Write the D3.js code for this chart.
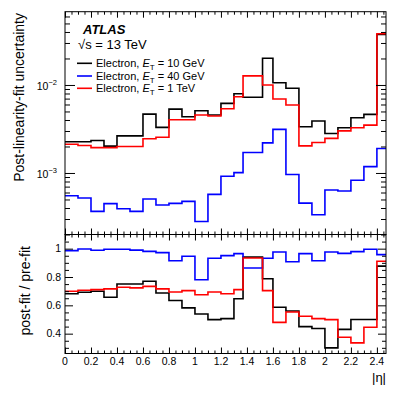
<!DOCTYPE html>
<html>
<head>
<meta charset="utf-8">
<script src="https://cdn.jsdelivr.net/npm/d3@7/dist/d3.min.js"></script>
<style>
body { margin: 0; background: #fff; }
text { font-family: "Liberation Sans", Arial, Helvetica, sans-serif; fill: #000; }
.domain { display: none; }
.tick line { stroke: #000; stroke-width: 1; }
</style>
</head>
<body>
<svg id="chart" width="407" height="393"></svg>
<script>
// bin edges in |eta| (crack region merged into one bin)
var binEdges = [0, 0.1, 0.2, 0.3, 0.4, 0.5, 0.6, 0.7, 0.8, 0.9, 1.0, 1.1, 1.2, 1.3,
                1.37, 1.52, 1.6, 1.7, 1.8, 1.9, 2.0, 2.1, 2.2, 2.3, 2.4, 2.47];

// post-linearity-fit uncertainty, top panel
var uncEt10GeV = [2.26e-3, 2.26e-3, 2.34e-3, 2.02e-3, 2.64e-3, 2.64e-3, 4.67e-3, 3.30e-3, 5.32e-3, 4.35e-3,
                  5.09e-3, 4.55e-3, 6.18e-3, 7.96e-3, 7.24e-3, 2.01e-2, 1.06e-2, 9.17e-3, 3.35e-3, 3.89e-3,
                  2.81e-3, 3.26e-3, 4.24e-3, 4.63e-3, 3.75e-2];
var uncEt40GeV = [5.51e-4, 5.19e-4, 3.66e-4, 4.48e-4, 3.93e-4, 3.66e-4, 5.06e-4, 4.32e-4, 4.52e-4, 4.76e-4,
                  2.81e-4, 5.72e-4, 9.17e-4, 1.01e-3, 1.71e-3, 2.20e-3, 3.13e-3, 9.60e-4, 4.55e-4, 3.35e-4,
                  6.40e-4, 6.23e-4, 8.26e-4, 1.18e-3, 1.90e-3];
var uncEt1TeV  = [2.12e-3, 2.05e-3, 1.94e-3, 1.94e-3, 2.00e-3, 2.00e-3, 2.45e-3, 2.55e-3, 4.02e-3, 4.02e-3,
                  4.55e-3, 4.44e-3, 5.37e-3, 7.36e-3, 1.27e-2, 1.00e-2, 6.92e-3, 5.91e-3, 2.03e-3, 2.22e-3,
                  2.47e-3, 3.01e-3, 3.26e-3, 3.50e-3, 3.82e-2];

// post-fit / pre-fit, bottom panel
var ratioEt10GeV = [0.682, 0.692, 0.699, 0.657, 0.751, 0.751, 0.770, 0.687, 0.634, 0.582,
                    0.539, 0.499, 0.506, 0.647, 0.940, 0.788, 0.586, 0.560, 0.450, 0.437,
                    0.300, 0.430, 0.500, 0.500, 0.877];
var ratioEt40GeV = [0.986, 0.998, 0.989, 0.996, 0.996, 0.990, 0.981, 0.972, 0.915, 0.946,
                    0.781, 0.932, 0.951, 0.965, 0.864, 0.932, 0.977, 0.908, 0.965, 0.915,
                    0.977, 0.967, 0.979, 0.996, 0.958];
var ratioEt1TeV  = [0.699, 0.706, 0.711, 0.716, 0.728, 0.723, 0.734, 0.716, 0.694, 0.704,
                    0.675, 0.694, 0.682, 0.711, 0.934, 0.704, 0.480, 0.553, 0.523, 0.506,
                    0.499, 0.375, 0.335, 0.445, 0.911];

var legendEt = ["10 GeV", "40 GeV", "1 TeV"];
var seriesColors = ["#000000", "#0000ff", "#ff0000"];

var xTicks = [0, 0.2, 0.4, 0.6, 0.8, 1, 1.2, 1.4, 1.6, 1.8, 2, 2.2, 2.4];
var xTickLabels = ["0", "0.2", "0.4", "0.6", "0.8", "1", "1.2", "1.4", "1.6", "1.8", "2", "2.2", "2.4"];
var logTicks = [1e-3, 1e-2];
var logTickExponents = ["\u22123", "\u22122"];
var ratioTicks = [0.4, 0.6, 0.8, 1];
var ratioTickLabels = ["0.4", "0.6", "0.8", "1"];

var svg = d3.select("#chart");
// pad geometry (avoid the name "top", it is window.top)
var padL = 65, padR = 386, padT = 11.7, padM = 234.5, padB = 353.5;

var x = d3.scaleLinear().domain([0, 2.47]).range([padL, padR]);
var yTop = d3.scaleLog().domain([2e-4, 0.068]).range([padM, padT]);
var yBot = d3.scaleLinear().domain([0.26, 1.1]).range([padB, padM]);

// minor ticks
var xMinor = d3.range(0, 2.47, 0.05).filter(function(v) { return Math.abs(v / 0.2 - Math.round(v / 0.2)) > 1e-6; });
var logMinor = [];
[1e-4, 1e-3, 1e-2].forEach(function(dec) {
    for (var k = 2; k <= 9; k++) {
        var v = k * dec;
        if (v >= 2e-4 && v <= 0.068) logMinor.push(v);
    }
});
var ratioMinor = d3.range(0.3, 1.1, 0.05).filter(function(v) {
    return Math.abs(v / 0.2 - Math.round(v / 0.2)) > 1e-6;
});

// clip paths for the two pads
var defs = svg.append("defs");
defs.append("clipPath").attr("id", "clipTop").append("rect")
    .attr("x", padL).attr("y", padT).attr("width", padR - padL).attr("height", padM - padT);
defs.append("clipPath").attr("id", "clipBot").append("rect")
    .attr("x", padL).attr("y", padM).attr("width", padR - padL).attr("height", padB - padM);

function stepPath(yScale, vals) {
    var pts = binEdges.map(function(e, i) { return [e, vals[Math.min(i, vals.length - 1)]]; });
    return d3.line()
        .x(function(d) { return x(d[0]); })
        .y(function(d) { return yScale(d[1]); })
        .curve(d3.curveStepAfter)(pts);
}

function drawHists(clipId, yScale, list) {
    var g = svg.append("g").attr("clip-path", "url(#" + clipId + ")");
    list.forEach(function(vals, i) {
        g.append("path")
            .attr("d", stepPath(yScale, vals))
            .attr("fill", "none")
            .attr("stroke", seriesColors[i])
            .attr("stroke-width", 1.6);
    });
}

drawHists("clipTop", yTop, [uncEt10GeV, uncEt40GeV, uncEt1TeV]);
drawHists("clipBot", yBot, [ratioEt10GeV, ratioEt40GeV, ratioEt1TeV]);

// ticks, ROOT style: all inside the frame, on all four sides
function addAxis(axis, tx, ty) {
    svg.append("g").attr("transform", "translate(" + tx + "," + ty + ")").call(axis);
}
function xAxes(y0, y1, majorLen, minorLen) {
    addAxis(d3.axisBottom(x).tickValues(xTicks).tickSize(-majorLen).tickFormat(""), 0, y1);
    addAxis(d3.axisBottom(x).tickValues(xMinor).tickSize(-minorLen).tickFormat(""), 0, y1);
    addAxis(d3.axisTop(x).tickValues(xTicks).tickSize(-majorLen).tickFormat(""), 0, y0);
    addAxis(d3.axisTop(x).tickValues(xMinor).tickSize(-minorLen).tickFormat(""), 0, y0);
}
function yAxes(scale, major, minor, majorLen, minorLen) {
    addAxis(d3.axisLeft(scale).tickValues(major).tickSize(-majorLen).tickFormat(""), padL, 0);
    addAxis(d3.axisLeft(scale).tickValues(minor).tickSize(-minorLen).tickFormat(""), padL, 0);
    addAxis(d3.axisRight(scale).tickValues(major).tickSize(-majorLen).tickFormat(""), padR, 0);
    addAxis(d3.axisRight(scale).tickValues(minor).tickSize(-minorLen).tickFormat(""), padR, 0);
}
xAxes(padT, padM, 6, 3);
xAxes(padM, padB, 6, 3);
yAxes(yTop, logTicks, logMinor, 10, 5);
yAxes(yBot, ratioTicks, ratioMinor, 8, 4);

// frames
[[padT, padM], [padM, padB]].forEach(function(p) {
    svg.append("rect")
        .attr("x", padL).attr("y", p[0])
        .attr("width", padR - padL).attr("height", p[1] - p[0])
        .attr("fill", "none").attr("stroke", "#000").attr("stroke-width", 1);
});

// tick labels
svg.selectAll(".xlab").data(xTicks).enter().append("text")
    .attr("x", function(d) { return x(d); })
    .attr("y", 364.5)
    .attr("text-anchor", "middle")
    .style("font-size", "10.5px")
    .text(function(d, i) { return xTickLabels[i]; });

var logLab = svg.selectAll(".ylab").data(logTicks).enter().append("text")
    .attr("x", 57)
    .attr("y", function(d) { return yTop(d) + 5; })
    .attr("text-anchor", "end")
    .style("font-size", "10.5px");
logLab.append("tspan").text("10");
logLab.append("tspan").attr("dy", -5).style("font-size", "7.5px")
    .text(function(d, i) { return logTickExponents[i]; });

svg.selectAll(".rlab").data(ratioTicks).enter().append("text")
    .attr("x", 61)
    .attr("y", function(d) { return yBot(d) + 3.8; })
    .attr("text-anchor", "end")
    .style("font-size", "10.5px")
    .text(function(d, i) { return ratioTickLabels[i]; });

// axis titles
svg.append("text")
    .attr("transform", "translate(24,13) rotate(-90)")
    .attr("text-anchor", "end")
    .style("font-size", "14px")
    .text("Post-linearity-fit uncertainty");
svg.append("text")
    .attr("transform", "translate(30,246) rotate(-90)")
    .attr("text-anchor", "end")
    .style("font-size", "14px")
    .text("post-fit / pre-fit");
svg.append("text")
    .attr("x", 386).attr("y", 382)
    .attr("text-anchor", "end")
    .style("font-size", "13px")
    .text("|\u03b7|");

// ATLAS label and energy
svg.append("text")
    .attr("x", 83).attr("y", 33.5)
    .style("font-size", "13px").style("font-weight", "bold").style("font-style", "italic")
    .text("ATLAS");
svg.append("text")
    .attr("x", 78).attr("y", 48.5)
    .style("font-size", "13px")
    .text("\u221as = 13 TeV");

// legend
var legendY = [63.3, 76, 88.3];
legendEt.forEach(function(label, i) {
    svg.append("line")
        .attr("x1", 77).attr("x2", 92)
        .attr("y1", legendY[i]).attr("y2", legendY[i])
        .attr("stroke", seriesColors[i]).attr("stroke-width", 1.6);
    var t = svg.append("text")
        .attr("x", 96).attr("y", legendY[i] + 4)
        .style("font-size", "11px");
    t.append("tspan").text("Electron, ");
    t.append("tspan").style("font-style", "italic").text("E");
    t.append("tspan").attr("dy", 2.5).style("font-size", "8px").text("T");
    t.append("tspan").attr("dy", -2.5).text(" = " + label);
});
</script>
</body>
</html>
